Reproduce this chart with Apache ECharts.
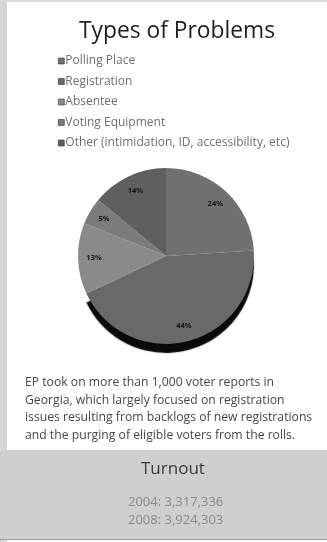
<!DOCTYPE html>
<html>
<head>
<meta charset="utf-8">
<script src="https://cdn.jsdelivr.net/npm/echarts@6/dist/echarts.min.js"></script>
<style>
  html, body { margin: 0; padding: 0; background: #ffffff; }
  #chart { width: 327px; height: 542px; }
</style>
</head>
<body>
<div id="chart"></div>
<script>
// Problem categories and their shares of reports (percent)
const categories = [
  'Polling Place',
  'Registration',
  'Absentee',
  'Voting Equipment',
  'Other (intimidation, ID, accessibility, etc)'
];
const shares = [24, 44, 13, 5, 14];
const sliceColors = ['#707070', '#696969', '#8a8a8a', '#7c7c7c', '#5f5f5f'];

const titleText = 'Types of Problems';
const noteLines = [
  'EP took on more than 1,000 voter reports in',
  'Georgia, which largely focused on registration',
  'issues resulting from backlogs of new registrations',
  'and the purging of eligible voters from the rolls.'
];
const turnoutTitle = 'Turnout';
const turnoutYears = ['2004', '2008'];
const turnoutVotes = ['3,317,336', '3,924,303'];

const FONT = '"Open Sans", Lato, sans-serif';

const pieData = categories.map((name, i) => ({
  name: name,
  value: shares[i],
  itemStyle: i === 1
    // the large bottom slice casts the dark rim under the disc
    ? { color: sliceColors[i], shadowColor: 'rgba(10,10,10,1)', shadowOffsetY: 9, shadowBlur: 1 }
    : { color: sliceColors[i] }
}));

const chart = echarts.init(document.getElementById('chart'), null, { renderer: 'canvas' });

chart.setOption({
  backgroundColor: '#ffffff',
  animation: false,
  title: {
    text: titleText,
    left: 172,
    textAlign: 'center',
    top: 15,
    textStyle: { fontFamily: FONT, fontSize: 22.8, fontWeight: 'normal', color: '#1e1e1e' }
  },
  legend: {
    orient: 'vertical',
    left: 53,
    top: 50,
    icon: 'rect',
    itemWidth: 6,
    itemHeight: 6,
    itemGap: 8.5,
    selectedMode: false,
    data: categories,
    textStyle: { fontFamily: FONT, fontSize: 12, color: '#6e6e6e', lineHeight: 12, padding: [0, 0, 0, -4] },
    itemStyle: { borderColor: '#333', borderWidth: 0.6 }
  },
  graphic: [
    // light border strips framing the panel
    { type: 'rect', left: 0, top: 0, shape: { width: 7, height: 542 }, style: { fill: '#d6d6d6' }, z: -1 },
    { type: 'rect', left: 0, top: 0, shape: { width: 327, height: 2 }, style: { fill: '#dcdcdc' }, z: -1 },
    // turnout box
    { type: 'rect', left: 0, top: 450, shape: { width: 327, height: 90 }, style: { fill: '#cfcfcf' }, z: -1 },
    { type: 'rect', left: 0, top: 539, shape: { width: 327, height: 1 }, style: { fill: '#9a9a9a' }, z: -1 },
    {
      type: 'text', left: 25, top: 374,
      style: {
        text: noteLines.join('\n'), fontFamily: FONT, fontSize: 12.2, lineHeight: 17.6, fill: '#474747'
      }
    },
    {
      type: 'text', left: 141, top: 461,
      style: { text: turnoutTitle, fontFamily: FONT, fontSize: 17, fill: '#3c3c3c' }
    },
    {
      type: 'text', left: 128, top: 493,
      style: {
        text: turnoutYears.map((y, i) => y + ': ' + turnoutVotes[i]).join('\n'),
        fontFamily: FONT, fontSize: 13, lineHeight: 18.5, fill: '#8a8a8a', align: 'center'
      }
    }
  ],
  series: [
    {
      type: 'pie',
      center: [166, 256],
      radius: 88,
      startAngle: 90,
      clockwise: true,
      silent: true,
      data: pieData,
      label: { show: false },
      labelLine: { show: false },
      itemStyle: { borderWidth: 0 }
    },
    {
      // transparent ring carrying the percentage labels
      type: 'pie',
      center: [166, 256],
      radius: [50, 88],
      startAngle: 90,
      clockwise: true,
      silent: true,
      data: categories.map((name, i) => ({ name: name, value: shares[i] })),
      itemStyle: { color: 'rgba(0,0,0,0)' },
      label: {
        show: true,
        position: 'inside',
        formatter: '{c}%',
        fontFamily: FONT,
        fontSize: 7.5,
        fontWeight: 'bold',
        color: '#151515'
      },
      labelLine: { show: false }
    }
  ]
});
</script>
</body>
</html>
